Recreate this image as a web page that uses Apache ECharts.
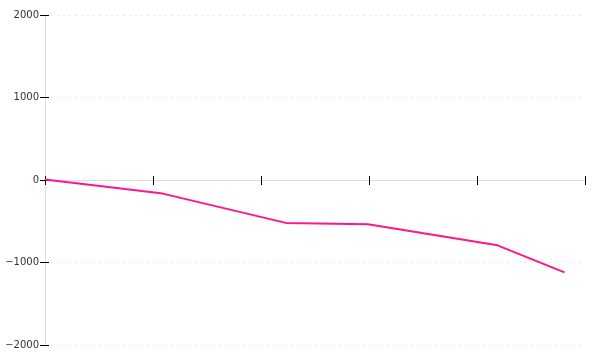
<!DOCTYPE html>
<html>
<head>
<meta charset="utf-8">
<script src="https://cdn.jsdelivr.net/npm/echarts@6/dist/echarts.min.js"></script>
<style>html,body{margin:0;padding:0;background:#fff}#c{width:600px;height:360px}</style>
</head>
<body>
<div id="c"></div>
<script>
const xValues = [0, 1.09, 2.23, 2.99, 4.19, 4.81];
const yValues = [5, -165, -520, -537, -792, -1120];
const yTicks = [-2000, -1000, 0, 1000, 2000];

const chart = echarts.init(document.getElementById('c'), null, {renderer: 'canvas'});
const pairs = xValues.map((x, i) => [x, yValues[i]]);
const xBase = {
  type: 'value', min: 0, max: 5, interval: 1,
  axisLine: {show: true, onZero: true, lineStyle: {color: '#ddd', width: 1}},
  axisTick: {show: true, length: 5, lineStyle: {color: '#000', width: 1}},
  axisLabel: {show: false},
  splitLine: {show: false}
};
const yBase = {
  type: 'value', min: yTicks[0], max: yTicks[yTicks.length - 1], interval: 1000,
  axisLine: {show: true, onZero: true, lineStyle: {color: '#ddd', width: 1}},
  axisTick: {show: true, length: 5, lineStyle: {color: '#000', width: 1}}
};
chart.setOption({
  animation: false,
  grid: {left: 45, right: 15, top: 15, bottom: 15, containLabel: false},
  xAxis: [
    Object.assign({}, xBase, {position: 'bottom'}),
    Object.assign({}, xBase, {position: 'top', axisTick: {show: true, length: 4, lineStyle: {color: '#000', width: 1}}})
  ],
  yAxis: [
    Object.assign({}, yBase, {
      position: 'left',
      axisLabel: {
        show: true, margin: 6, color: '#333', fontSize: 10, fontFamily: 'DejaVu Sans',
        formatter: v => String(v).replace('-', '\u2212')
      },
      splitLine: {show: true, lineStyle: {color: '#e6e6e6', type: [2, 4], width: 1}}
    }),
    Object.assign({}, yBase, {
      position: 'right',
      axisTick: {show: true, length: 4, lineStyle: {color: '#000', width: 1}},
      axisLabel: {show: false},
      splitLine: {show: false}
    })
  ],
  series: [{
    type: 'line',
    xAxisIndex: 0, yAxisIndex: 0,
    data: pairs,
    showSymbol: false,
    symbol: 'none',
    lineStyle: {color: '#ff1493', width: 2},
    z: 5
  }]
});
</script>
</body>
</html>
